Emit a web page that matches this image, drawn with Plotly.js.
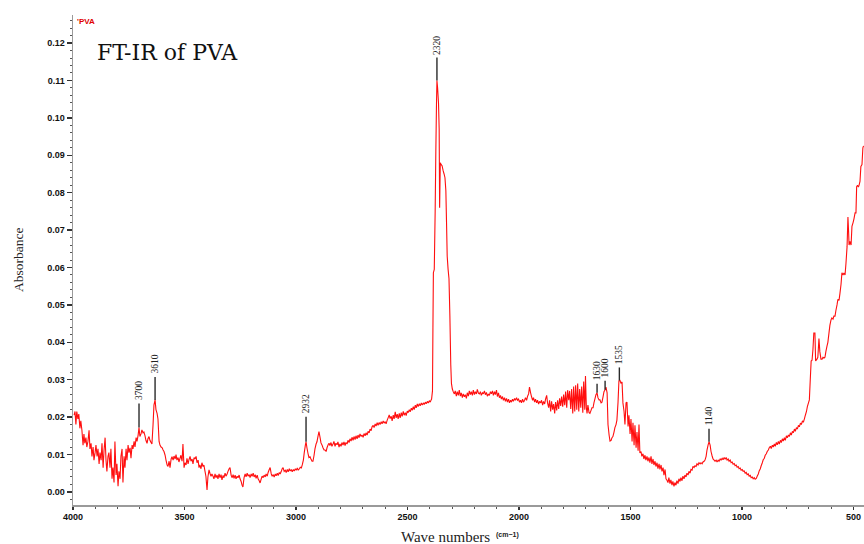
<!DOCTYPE html>
<html>
<head>
<meta charset="utf-8">
<script src="https://cdn.plot.ly/plotly-3.0.1.min.js"></script>
<style>html,body{margin:0;padding:0;background:#fff;}#chart{width:864px;height:544px;}</style>
</head>
<body>
<div id="chart"></div>
<script>
// ---- data ----
const wavenumber = [
3995,3991,3987,3983,3978,3974,3969,3965,3960,3955,
3951,3947,3942,3938,3933,3928,3924,3919,3915,3910,
3906,3901,3897,3892,3888,3883,3879,3874,3870,3865,
3861,3856,3852,3848,3843,3839,3834,3830,3825,3821,
3816,3812,3807,3803,3798,3794,3789,3785,3780,3776,
3771,3767,3762,3758,3753,3749,3744,3740,3735,3731,
3726,3722,3717,3713,3708,3704,3700,3695,3691,3686,
3682,3677,3673,3668,3664,3659,3655,3650,3646,3641,
3637,3632,3628,3623,3619,3614,3610,3605,3600,3596,
3592,3587,3583,3578,3574,3569,3565,3560,3556,3551,
3547,3542,3538,3534,3529,3525,3520,3516,3511,3507,
3502,3498,3493,3489,3484,3480,3475,3471,3466,3462,
3457,3453,3448,3444,3439,3435,3431,3426,3422,3417,
3413,3408,3404,3399,3395,3390,3386,3381,3377,3372,
3368,3363,3359,3354,3350,3345,3341,3336,3332,3327,
3323,3318,3314,3309,3305,3300,3296,3291,3287,3282,
3278,3273,3269,3264,3260,3255,3251,3246,3242,3238,
3233,3228,3224,3219,3215,3210,3206,3201,3197,3192,
3188,3183,3179,3174,3170,3165,3161,3156,3152,3147,
3143,3138,3134,3129,3125,3120,3116,3111,3107,3102,
3098,3093,3089,3084,3080,3075,3071,3066,3062,3058,
3053,3048,3044,3039,3035,3030,3026,3021,3017,3012,
3008,3003,2999,2994,2990,2985,2981,2976,2972,2967,
2963,2958,2955,2951,2946,2942,2937,2933,2928,2924,
2919,2915,2910,2906,2901,2897,2892,2888,2883,2879,
2874,2870,2865,2861,2856,2852,2848,2843,2839,2834,
2830,2825,2821,2816,2812,2807,2803,2798,2794,2789,
2785,2780,2776,2771,2767,2762,2758,2753,2749,2744,
2740,2735,2731,2726,2722,2717,2713,2708,2704,2699,
2695,2690,2686,2681,2677,2672,2668,2663,2659,2654,
2650,2645,2641,2636,2632,2627,2623,2618,2614,2609,
2605,2600,2596,2591,2587,2582,2578,2573,2569,2564,
2560,2555,2551,2546,2542,2537,2533,2528,2524,2519,
2515,2510,2506,2501,2497,2492,2488,2483,2479,2474,
2470,2465,2461,2456,2452,2447,2443,2438,2434,2429,
2425,2420,2416,2411,2407,2402,2398,2394,2392,2388,
2386,2384,2380,2376,2373,2370,2368,2365,2361,2358,
2356,2353,2349,2345,2340,2336,2332,2328,2325,2322,
2318,2314,2310,2306,2303,2299,2295,2290,2286,2281,
2277,2272,2268,2263,2259,2254,2250,2245,2241,2236,
2232,2227,2223,2218,2214,2209,2205,2200,2196,2191,
2187,2182,2178,2173,2169,2164,2160,2155,2151,2146,
2142,2137,2133,2128,2124,2119,2115,2110,2106,2101,
2097,2092,2088,2083,2079,2074,2070,2065,2061,2056,
2052,2047,2043,2038,2034,2029,2025,2020,2016,2011,
2007,2002,1998,1993,1989,1984,1980,1975,1971,1966,
1962,1957,1953,1948,1944,1939,1935,1930,1926,1921,
1917,1912,1908,1903,1899,1894,1890,1885,1881,1876,
1872,1867,1863,1858,1854,1849,1845,1840,1836,1831,
1827,1822,1818,1813,1809,1804,1800,1795,1791,1786,
1782,1777,1773,1768,1764,1759,1755,1750,1746,1741,
1737,1732,1728,1723,1719,1714,1710,1705,1702,1698,
1695,1691,1686,1682,1677,1673,1668,1664,1659,1655,
1650,1646,1641,1637,1632,1628,1623,1619,1614,1610,
1605,1601,1596,1592,1587,1583,1579,1574,1570,1565,
1561,1556,1552,1547,1543,1538,1534,1529,1525,1520,
1516,1511,1507,1502,1498,1493,1489,1484,1480,1475,
1471,1466,1462,1458,1453,1449,1444,1440,1435,1431,
1426,1422,1417,1413,1408,1404,1399,1395,1390,1386,
1381,1377,1372,1368,1363,1359,1354,1350,1345,1341,
1337,1332,1328,1323,1319,1314,1310,1305,1301,1296,
1292,1287,1283,1278,1274,1269,1265,1260,1256,1251,
1247,1242,1238,1233,1229,1224,1220,1215,1211,1206,
1202,1197,1193,1188,1184,1179,1175,1170,1166,1161,
1157,1152,1148,1143,1139,1134,1130,1125,1121,1116,
1112,1107,1103,1098,1094,1089,1085,1080,1076,1071,
1067,1062,1058,1053,1049,1044,1040,1035,1031,1026,
1022,1017,1013,1008,1004,999,995,990,986,981,
977,972,968,963,959,954,950,945,941,936,
932,927,923,918,914,909,905,900,896,891,
887,882,878,873,869,864,860,855,851,846,
842,837,833,828,824,819,815,810,806,801,
797,792,788,783,779,774,770,765,761,756,
752,747,743,738,734,729,725,720,716,711,
707,702,698,694,690,686,682,678,673,670,
664,660,655,651,646,641,637,632,628,624,
619,615,610,606,601,597,592,588,583,579,
574,570,565,561,556,552,547,543,538,534,
529,525,522,520,516,511,507,502,498,493,
489,486,482,478,475,471,467,462,458,455
];
const absorbance = [
.0205,.0215,.018,.0215,.0195,.0208,.017,.019,.0165,.0125,
.0155,.013,.0145,.012,.0135,.0165,.0115,.013,.0095,.012,
.0085,.0105,.0125,.0095,.0115,.0075,.0105,.0085,.013,.0065,
.011,.0145,.0085,.0055,.0095,.0105,.0065,.0115,.0035,.0065,
.0025,.0135,.0045,.0075,.0015,.0055,.0035,.0095,.0115,.0025,
.0095,.0065,.0115,.0085,.0125,.0105,.0118,.009,.0125,.0115,
.0135,.012,.0145,.0135,.0152,.0172,.0148,.0155,.0166,.0158,
.016,.015,.0138,.013,.0142,.0148,.0138,.0132,.0128,.018,
.0232,.0246,.022,.021,.0195,.0135,.0125,.012,.0118,.0112,
.0108,.0098,.0085,.0072,.0068,.0082,.0065,.0088,.0094,.0085,
.0096,.0088,.01,.0085,.0092,.008,.009,.0098,.0082,.0128,
.0065,.0078,.0072,.009,.0075,.0086,.0095,.0082,.0088,.0075,
.0092,.0088,.0095,.0078,.0085,.0065,.0072,.0062,.0078,.0068,
.0072,.0055,.0042,.0005,.004,.0059,.005,.0042,.0048,.0042,
.0035,.0048,.0038,.0045,.0035,.0048,.0038,.0046,.0032,.0044,
.0038,.005,.0042,.0048,.0055,.0062,.0065,.0045,.0038,.0046,
.0036,.0045,.0035,.0042,.0038,.0045,.0035,.0028,.0018,.0013,
.0038,.0048,.004,.005,.0042,.0046,.0038,.0048,.0042,.005,
.004,.0046,.0036,.0045,.0035,.003,.0024,.0035,.0042,.0038,
.0045,.004,.0048,.0042,.0052,.006,.0065,.0048,.0042,.0046,
.004,.0048,.0043,.005,.0044,.0052,.0048,.0055,.0062,.0065,
.0055,.0058,.0052,.006,.0054,.0062,.0056,.006,.0054,.006,
.0056,.0062,.0058,.0064,.0058,.0062,.0066,.0064,.0072,.0085,
.0105,.0125,.0134,.0118,.0102,.0092,.0094,.0088,.0082,.0082,
.0098,.0115,.0128,.0134,.015,.0161,.0145,.0131,.0125,.0118,
.0112,.0112,.0108,.0118,.0126,.013,.0124,.0132,.0122,.0128,
.0135,.0122,.013,.0126,.0134,.012,.0128,.0122,.0132,.0125,
.0134,.0124,.0132,.0128,.0138,.0132,.0142,.0136,.0146,.0138,
.0148,.014,.015,.0142,.0152,.0145,.0155,.0148,.0152,.0146,
.0156,.015,.0158,.0152,.0162,.0158,.0168,.0164,.0174,.0178,
.0172,.0182,.0176,.0185,.0178,.0186,.018,.0188,.0182,.019,
.0184,.0188,.0182,.0192,.0198,.0206,.0196,.0202,.019,.0205,
.0195,.0214,.0198,.0208,.0195,.021,.0198,.0212,.0202,.0215,
.0205,.0212,.0204,.0216,.0212,.022,.0214,.0224,.0218,.0228,
.022,.0232,.0225,.0235,.0228,.0236,.023,.0238,.0232,.0238,
.0234,.024,.0236,.0242,.0238,.0244,.024,.0246,.0248,.027,
.044,.0586,.0595,.075,.091,.104,.110,.108,.104,.097,
.076,.088,.0875,.0872,.0858,.085,.084,.0805,.072,.063,
.0595,.057,.047,.034,.029,.0275,.0268,.0262,.027,.0256,
.0268,.0258,.0272,.0256,.0265,.0252,.0262,.0254,.026,.025,
.0265,.0256,.027,.026,.0268,.0258,.0272,.026,.0268,.0262,
.0274,.0264,.0262,.0268,.0258,.0265,.0262,.027,.026,.0266,
.0256,.0262,.0258,.0268,.0262,.027,.0258,.0268,.026,.0272,
.0255,.0265,.0252,.0258,.0248,.0255,.0245,.0252,.0242,.025,
.024,.0248,.0238,.0245,.024,.0248,.0242,.025,.0245,.0252,
.0245,.0248,.024,.0245,.0238,.0248,.024,.0245,.0252,.0245,
.0255,.0262,.028,.0265,.0255,.0245,.0252,.024,.0248,.0238,
.0245,.0235,.0242,.0238,.0245,.0232,.0242,.0235,.0248,.0258,
.0238,.0225,.0245,.0215,.0242,.022,.0235,.021,.024,.0218,
.0245,.0222,.025,.023,.0255,.0228,.026,.0232,.0268,.0225,
.0272,.0245,.027,.0222,.0275,.021,.0282,.0215,.0285,.022,
.029,.0215,.0275,.0225,.0282,.0212,.0295,.022,.031,.0225,
.021,.0232,.0212,.021,.0218,.0225,.0225,.0238,.025,.026,
.0265,.0252,.0246,.0246,.0238,.024,.0255,.0268,.0273,.028,
.0265,.018,.0152,.0136,.0138,.0145,.0148,.016,.0172,.018,
.0192,.024,.0297,.0298,.029,.0294,.0238,.0215,.018,.0238,
.024,.0175,.0205,.0155,.0195,.0135,.0185,.0125,.0178,.0118,
.016,.011,.018,.0104,.0108,.0095,.0102,.0088,.0098,.0085,
.0095,.0082,.0092,.0078,.0095,.0075,.0088,.0072,.0082,.0068,
.0078,.0062,.0075,.006,.0072,.0055,.0065,.0045,.006,.0035,
.0032,.0025,.0038,.0022,.0032,.0018,.0028,.0015,.0025,.0018,
.003,.0022,.0035,.0028,.0038,.003,.0042,.0035,.0045,.004,
.005,.0045,.0055,.005,.006,.0058,.0068,.0065,.007,.0068,
.0075,.0072,.0078,.0075,.0078,.0075,.008,.0082,.0085,.0095,
.0112,.0126,.0134,.0125,.0108,.0096,.0088,.0085,.0082,.0085,
.008,.0085,.0082,.0088,.0085,.009,.0086,.0092,.0088,.0092,
.0085,.0088,.0082,.0085,.0078,.008,.0074,.0076,.007,.0072,
.0066,.0068,.0062,.0064,.0058,.006,.0055,.0056,.005,.0052,
.0046,.0048,.0042,.0044,.0038,.004,.0035,.0038,.0034,.0036,
.0042,.0048,.0056,.0062,.007,.0078,.0086,.009,.0098,.0102,
.0108,.0112,.0118,.0122,.0116,.0125,.012,.0128,.0122,.0132,
.0126,.0135,.0128,.0138,.0132,.0142,.0136,.0145,.0138,.015,
.0145,.0152,.0148,.0158,.0152,.0162,.0158,.0168,.0162,.0172,
.0168,.0178,.0174,.0184,.018,.019,.0186,.0196,.0205,.0215,
.0228,.0238,.0246,.03,.035,.0352,.038,.0425,.0425,.035,
.0355,.036,.041,.0375,.0355,.0355,.036,.0358,.036,.0375,
.039,.040,.0425,.0445,.046,.0465,.0462,.047,.047,.0485,
.05,.0515,.0512,.053,.0555,.0586,.058,.0585,.058,.061,
.0655,.0735,.0695,.066,.067,.066,.071,.072,.073,.0746,
.0746,.0816,.082,.0815,.082,.083,.087,.0875,.092,.0925
];
const peakLabels = ["3700","3610","2932","2320","1630","1600","1535","1140"];
const peakWn     = [3704, 3632, 2955, 2368, 1650, 1614, 1550, 1148];
const peakAbs    = [0.0172, 0.0246, 0.0134, 0.110, 0.0265, 0.0273, 0.0298, 0.0134];
const xTickVals  = [4000, 3500, 3000, 2500, 2000, 1500, 1000, 500];
const yTickVals  = [0, 0.01, 0.02, 0.03, 0.04, 0.05, 0.06, 0.07, 0.08, 0.09, 0.10, 0.11, 0.12];

// ---- styling ----
const stemLen = [24, 23, 25, 23, 9, 9, 13, 13];
const serif = "Liberation Serif, Times New Roman, serif";
const wideSerif = "DejaVu Serif, serif";
const sans = "Liberation Sans, Arial, sans-serif";

const shapes = peakWn.map((w, i) => ({
  type: "line", xref: "x", yref: "y", ysizemode: "pixel", yanchor: peakAbs[i],
  x0: w, x1: w, y0: 0, y1: stemLen[i],
  line: {color: "#2a2a2a", width: 1.4}
}));
const peakAnn = peakWn.map((w, i) => ({
  x: w, y: peakAbs[i], xref: "x", yref: "y", text: peakLabels[i],
  showarrow: false, textangle: -90, yanchor: "bottom", xanchor: "center",
  yshift: stemLen[i] + 1,
  font: {family: serif, size: 9.5, color: "#222"}
}));

const trace = {
  x: wavenumber, y: absorbance, type: "scatter", mode: "lines",
  line: {color: "#ff0f0f", width: 1.1, simplify: false},
  hoverinfo: "skip"
};

const layout = {
  width: 864, height: 544,
  margin: {l: 73, r: 0, t: 15, b: 39},
  paper_bgcolor: "#fff", plot_bgcolor: "#fff",
  showlegend: false,
  title: {text: "FT-IR of PVA", xref: "container", yref: "container",
          x: 97/864, y: 1 - 52/544, xanchor: "left", yanchor: "middle",
          font: {family: wideSerif, size: 22, color: "#111"}},
  xaxis: {
    range: [4000, 453], autorange: false,
    tickvals: xTickVals, ticktext: xTickVals.map(String),
    showgrid: false, zeroline: false,
    showline: true, linecolor: "#9a9a9a", linewidth: 1.5,
    ticks: "outside", ticklen: 3, tickwidth: 1.5, tickcolor: "#333",
    minor: {dtick: 100, tick0: 0, ticks: "outside", ticklen: 2, tickcolor: "#555", tickwidth: 1, showgrid: false},
    tickfont: {family: sans, size: 9, weight: "bold", color: "#111"}
  },
  yaxis: {
    range: [-0.0035, 0.1275], autorange: false,
    tickvals: yTickVals, ticktext: yTickVals.map(v => v.toFixed(2)),
    showgrid: false, zeroline: false,
    showline: true, linecolor: "#9a9a9a", linewidth: 1.5,
    ticks: "outside", ticklen: 5, tickwidth: 1.5, tickcolor: "#333",
    minor: {dtick: 0.002, tick0: 0, ticks: "outside", ticklen: 2, tickcolor: "#555", tickwidth: 1, showgrid: false},
    tickfont: {family: sans, size: 9, weight: "bold", color: "#111"}
  },
  shapes: shapes,
  annotations: peakAnn.concat([
    {xref: "paper", yref: "paper", x: (18 - 73)/791, y: (505 - 260)/490,
     text: "Absorbance", textangle: -90, showarrow: false, xanchor: "center", yanchor: "middle",
     font: {family: serif, size: 13.5, color: "#222"}},
    {xref: "paper", yref: "paper", x: (399 - 73)/791, y: (505 - 537)/490,
     text: "Wave numbers", showarrow: false, xanchor: "left", yanchor: "middle",
     font: {family: serif, size: 15, color: "#222"}},
    {xref: "paper", yref: "paper", x: (494 - 73)/791, y: (505 - 535)/490,
     text: "(cm\u22121)", showarrow: false, xanchor: "left", yanchor: "middle",
     font: {family: sans, size: 7, weight: "bold", color: "#222"}},
    {xref: "paper", yref: "paper", x: (75 - 73)/791, y: (505 - 21)/490,
     text: "'PVA", showarrow: false, xanchor: "left", yanchor: "middle",
     font: {family: sans, size: 8, weight: "bold", color: "#e00000"}}
  ])
};

Plotly.newPlot("chart", [trace], layout, {staticPlot: true, displayModeBar: false});
</script>
</body>
</html>
